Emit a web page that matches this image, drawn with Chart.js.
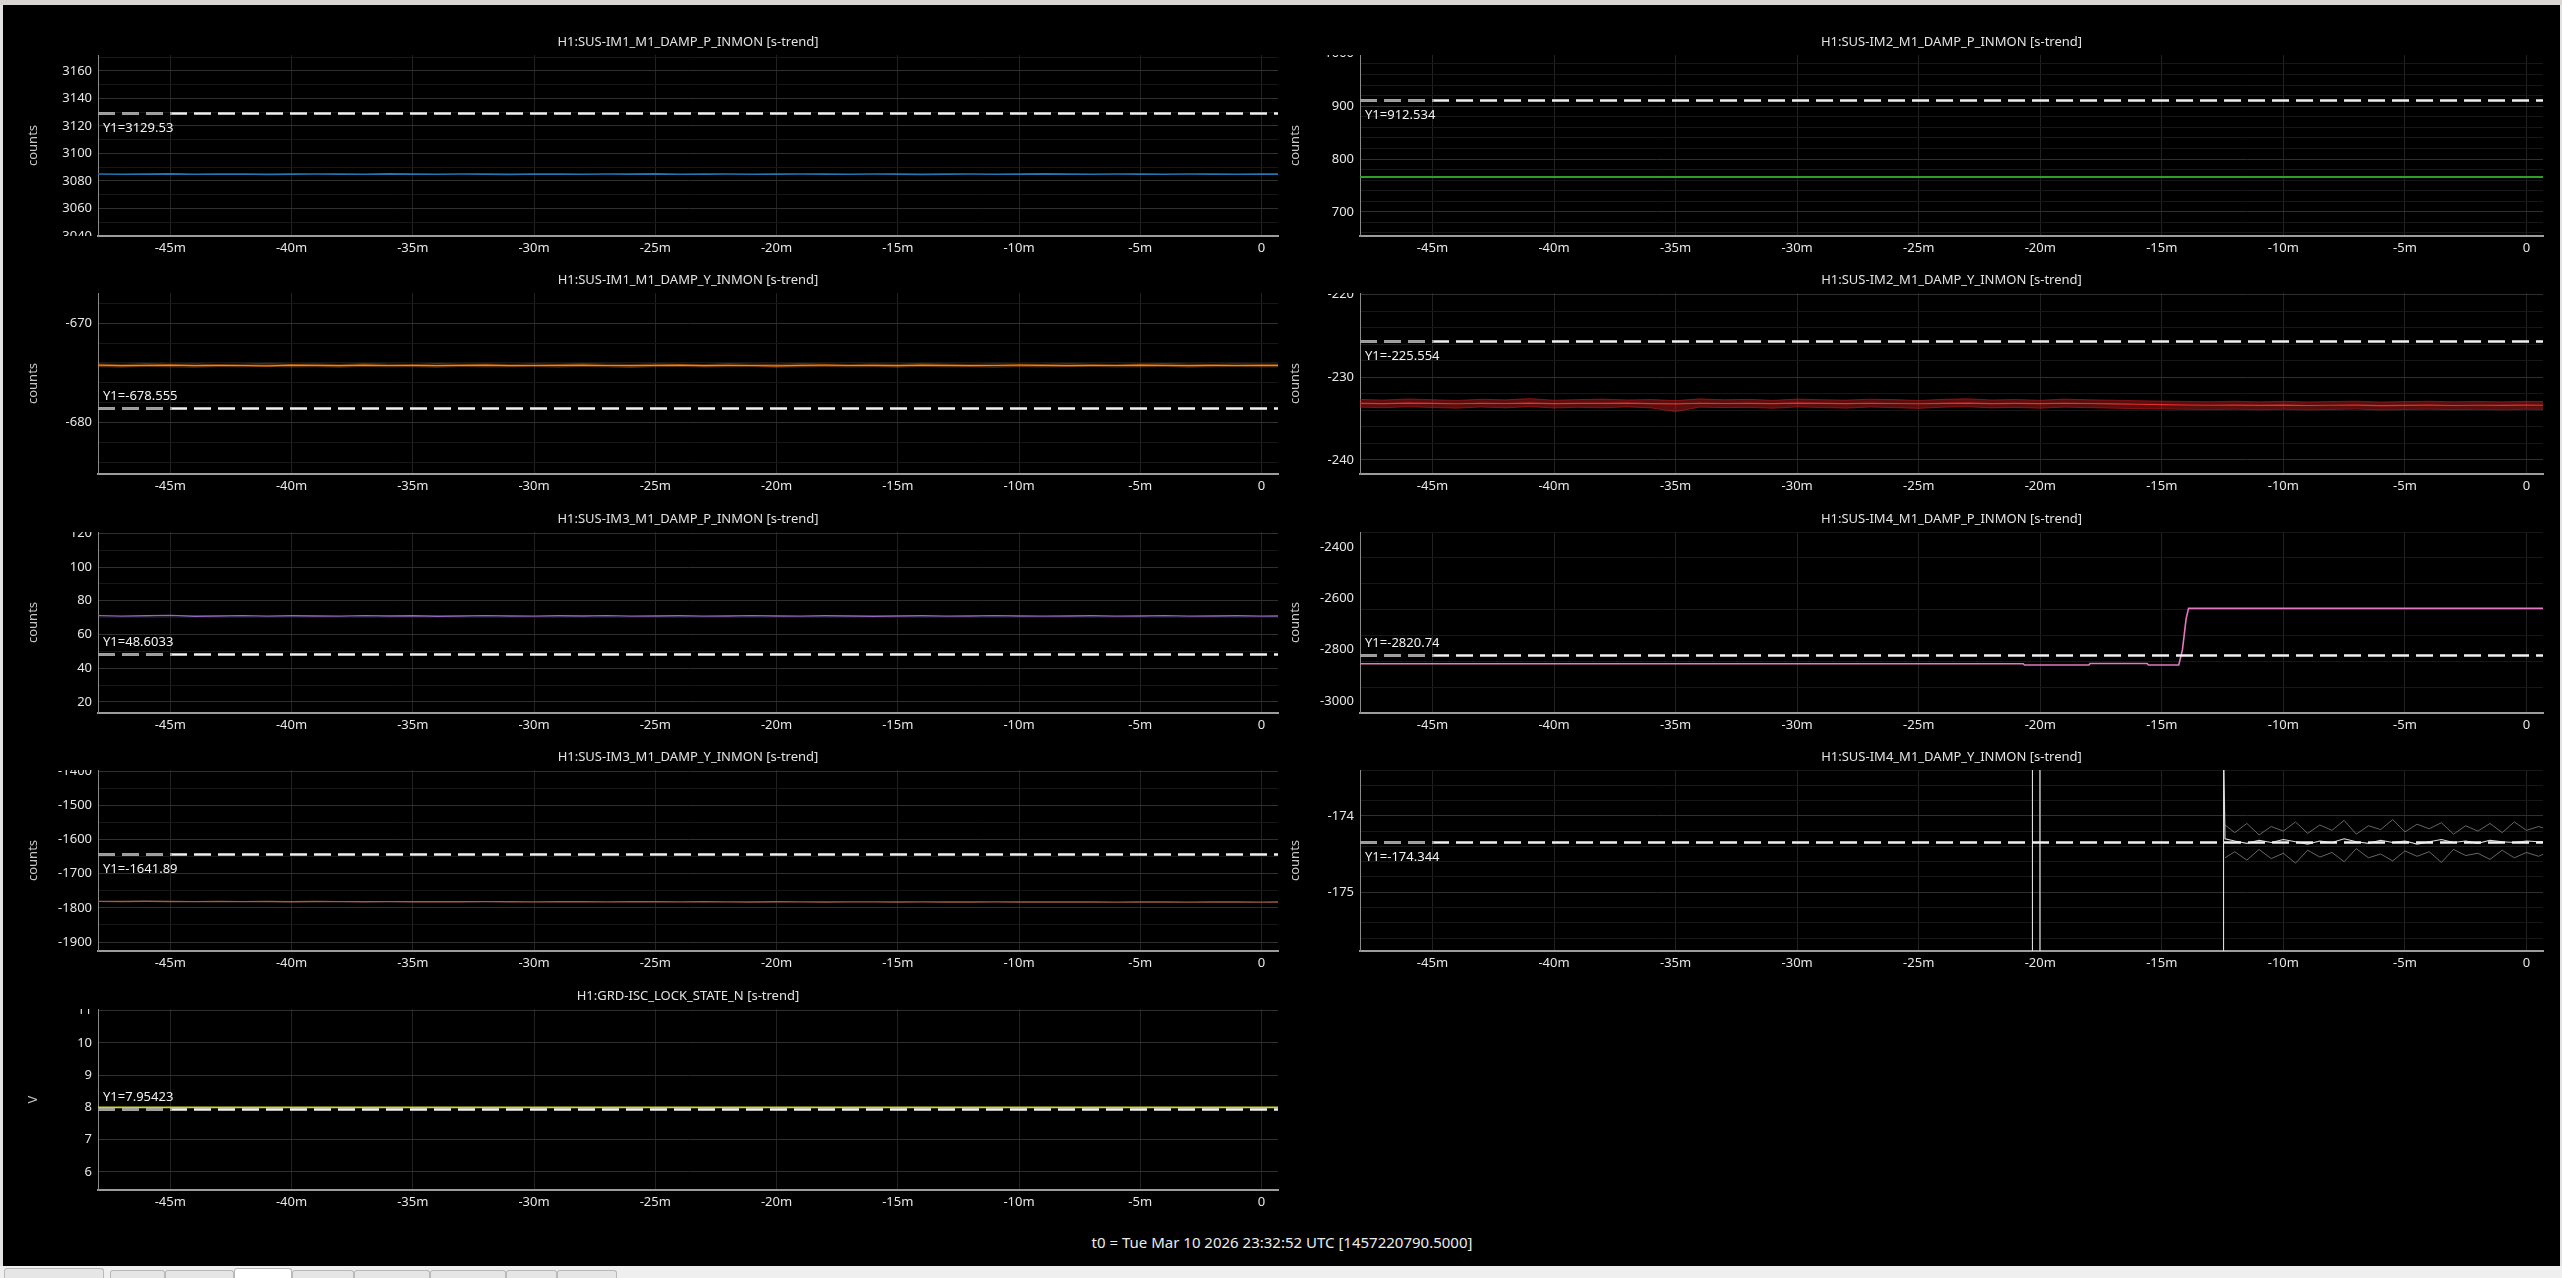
<!DOCTYPE html>
<html>
<head>
<meta charset="utf-8">
<title>ndscope trends</title>
<script src="https://cdn.jsdelivr.net/npm/chart.js@4.4.1/dist/chart.umd.min.js"></script>
<style>
  html, body { margin: 0; padding: 0; background: #000; width: 2562px; height: 1278px; overflow: hidden; font-family: "Noto Sans", sans-serif; }
  #topbar { position: absolute; left: 0; top: 0; width: 2562px; height: 5px; background: #d8d5d2; }
  #leftbar { position: absolute; left: 0; top: 5px; width: 3px; height: 1261px; background: #e2e2e2; }
  #rightbar { position: absolute; left: 2560px; top: 5px; width: 2px; height: 1261px; background: #e2e2e2; }
  #tabbar { position: absolute; left: 0; top: 1266px; width: 2562px; height: 12px; background: #efefef; }
  .tab { position: absolute; top: 4px; height: 8px; box-sizing: border-box; border: 1px solid #b9b9b9; border-bottom: none; border-radius: 3px 3px 0 0; background: #e6e6e6; }
  .tab.sel { top: 2px; height: 10px; background: #fff; }
  #t0 { position: absolute; left: 0; top: 1232px; width: 2564px; text-align: center; color: #ececec; font-size: 15px; }
  canvas { position: absolute; }
</style>
</head>
<body>
<div id="topbar"></div>
<div id="leftbar"></div>
<div id="rightbar"></div>
<div id="t0">t0 = Tue Mar 10 2026 23:32:52 UTC [1457220790.5000]</div>
<div id="tabbar">
  <div class="tab" style="left:4px;width:100px;top:2px;height:10px"></div>
  <div class="tab" style="left:110px;width:55px"></div>
  <div class="tab" style="left:165px;width:69px"></div>
  <div class="tab sel" style="left:234px;width:58px"></div>
  <div class="tab" style="left:292px;width:62px"></div>
  <div class="tab" style="left:354px;width:76px"></div>
  <div class="tab" style="left:430px;width:76px"></div>
  <div class="tab" style="left:506px;width:51px"></div>
  <div class="tab" style="left:557px;width:60px"></div>
</div>
<script>
// time axis in minutes relative to t0
const xMin = -47.98, xMax = 0.68

const tMin = [-48,-47,-46,-45,-44,-43,-42,-41,-40,-39,
  -38,-37,-36,-35,-34,-33,-32,-31,-30,-29,
  -28,-27,-26,-25,-24,-23,-22,-21,-20,-19,
  -18,-17,-16,-15,-14,-13,-12,-11,-10,-9,
  -8,-7,-6,-5,-4,-3,-2,-1,0,0.7]

// H1:SUS-IM1_M1_DAMP_P_INMON
const im1pMean = [3085.1,3084.9,3085.0,3085.2,3084.9,3085.0,3085.1,3084.8,3085.0,3085.1,
  3085.0,3084.9,3085.2,3085.0,3084.9,3085.1,3085.0,3084.8,3085.1,3085.0,
  3084.9,3085.1,3085.0,3085.2,3084.9,3085.0,3085.1,3084.9,3085.0,3085.1,
  3085.0,3084.9,3085.1,3085.0,3084.8,3085.0,3085.1,3084.9,3085.0,3085.2,
  3085.0,3084.9,3085.1,3085.0,3084.9,3085.1,3085.0,3084.9,3085.0,3085.0]

// H1:SUS-IM2_M1_DAMP_P_INMON
const im2pT = [-48, -24, 0.7]
const im2pMean = [766.0, 766.0, 766.0]

// H1:SUS-IM1_M1_DAMP_Y_INMON
const im1yMean = [-674.22,-674.27,-674.24,-674.21,-674.26,-674.23,-674.25,-674.28,-674.22,-674.24,
  -674.26,-674.21,-674.25,-674.23,-674.27,-674.24,-674.22,-674.26,-674.25,-674.23,
  -674.21,-674.25,-674.27,-674.24,-674.22,-674.26,-674.23,-674.25,-674.28,-674.24,
  -674.22,-674.25,-674.23,-674.26,-674.21,-674.24,-674.27,-674.25,-674.22,-674.24,
  -674.26,-674.23,-674.25,-674.21,-674.24,-674.27,-674.23,-674.25,-674.24,-674.24]
const im1yMax = [-674.08,-674.12,-674.05,-674.10,-674.07,-674.13,-674.09,-674.04,-674.11,-674.08,
  -674.12,-674.06,-674.09,-674.13,-674.05,-674.10,-674.08,-674.12,-674.07,-674.11,
  -674.05,-674.09,-674.12,-674.07,-674.10,-674.13,-674.06,-674.09,-674.11,-674.05,
  -674.09,-674.12,-674.08,-674.10,-674.04,-674.09,-674.12,-674.07,-674.09,-674.11,
  -674.06,-674.10,-674.12,-674.08,-674.05,-674.09,-674.11,-674.07,-674.09,-674.09]
const im1yMin = [-674.38,-674.42,-674.36,-674.40,-674.44,-674.37,-674.40,-674.35,-674.41,-674.39,
  -674.43,-674.36,-674.40,-674.38,-674.44,-674.36,-674.41,-674.39,-674.37,-674.42,
  -674.36,-674.40,-674.45,-674.38,-674.35,-674.41,-674.39,-674.37,-674.43,-674.40,
  -674.36,-674.41,-674.38,-674.42,-674.36,-674.40,-674.39,-674.44,-674.37,-674.41,
  -674.38,-674.35,-674.41,-674.40,-674.36,-674.42,-674.39,-674.37,-674.40,-674.40]

// H1:SUS-IM2_M1_DAMP_Y_INMON
const im2yMean = [-233.15,-233.18,-233.12,-233.16,-233.20,-233.14,-233.17,-233.13,-233.19,-233.15,
  -233.16,-233.12,-233.18,-233.21,-233.14,-233.17,-233.15,-233.19,-233.13,-233.16,
  -233.18,-233.14,-233.17,-233.20,-233.15,-233.13,-233.18,-233.16,-233.19,-233.14,
  -233.17,-233.22,-233.26,-233.31,-233.35,-233.38,-233.36,-233.40,-233.37,-233.41,
  -233.38,-233.36,-233.42,-233.39,-233.37,-233.41,-233.38,-233.40,-233.36,-233.38]
const im2yMax = [-232.68,-232.75,-232.62,-232.71,-232.80,-232.66,-232.73,-232.58,-232.77,-232.70,
  -232.64,-232.74,-232.69,-232.82,-232.61,-232.72,-232.67,-232.79,-232.63,-232.71,
  -232.76,-232.65,-232.70,-232.81,-232.66,-232.60,-232.74,-232.69,-232.78,-232.64,
  -232.72,-232.77,-232.83,-232.88,-232.92,-232.95,-232.90,-232.97,-232.91,-232.98,
  -232.93,-232.89,-232.99,-232.94,-232.90,-232.96,-232.92,-232.97,-232.91,-232.93]
const im2yMin = [-233.62,-233.68,-233.57,-233.66,-233.74,-233.60,-233.70,-233.55,-233.72,-233.63,
  -233.69,-233.58,-233.71,-234.15,-233.61,-233.67,-233.64,-233.75,-233.59,-233.66,
  -233.73,-233.60,-233.68,-233.76,-233.62,-233.57,-233.70,-233.65,-233.74,-233.61,
  -233.68,-233.74,-233.79,-233.84,-233.88,-233.91,-233.86,-233.93,-233.87,-233.94,
  -233.89,-233.85,-233.95,-233.90,-233.86,-233.92,-233.88,-233.93,-233.87,-233.89]

// H1:SUS-IM3_M1_DAMP_P_INMON
const im3pMean = [71.2,70.9,71.1,71.3,70.8,71.0,71.2,70.9,71.1,71.0,
  70.9,71.2,71.0,71.1,70.8,71.0,71.2,71.0,70.9,71.1,
  71.0,71.2,70.9,71.0,71.1,70.9,71.0,71.2,71.0,70.9,
  71.1,71.0,70.8,71.0,71.1,70.9,71.0,71.2,71.0,70.9,
  71.0,71.1,70.9,71.0,71.2,70.9,71.0,71.1,70.9,71.0]

// H1:SUS-IM4_M1_DAMP_P_INMON
const im4pT = [-48,-20.7,-20.65,-18.0,-17.95,-15.6,-15.55,-14.3,-14.15,-14.0,-13.9,0.7]
const im4pMean = [-2855,-2855,-2860,-2860,-2854,-2854,-2860,-2860,-2800,-2680,-2639,-2639]

// H1:SUS-IM3_M1_DAMP_Y_INMON
const im3yMean = [-1781.0,-1781.5,-1780.8,-1781.3,-1781.6,-1781.2,-1781.7,-1781.4,-1781.9,-1781.5,
  -1781.8,-1782.0,-1781.6,-1782.1,-1781.9,-1782.2,-1781.8,-1782.0,-1782.3,-1781.9,
  -1782.1,-1782.4,-1782.0,-1782.2,-1782.5,-1782.1,-1782.3,-1782.6,-1782.2,-1782.4,
  -1782.7,-1782.3,-1782.5,-1782.8,-1782.4,-1782.6,-1782.9,-1782.5,-1782.7,-1783.0,
  -1782.6,-1782.8,-1783.1,-1782.7,-1782.9,-1783.2,-1782.8,-1783.0,-1783.1,-1783.0]

// H1:SUS-IM4_M1_DAMP_Y_INMON (off-scale before the glitch at -12.5m)
const im4yT = [-48,-20.33,-20.32,-20.02,-20.01,-12.47,-12.46,-12.4,
  -12.0,-11.5,-11.0,-10.5,-10.0,-9.5,-9.0,-8.5,-8.0,-7.5,-7.0,-6.5,-6.0,-5.5,
  -5.0,-4.5,-4.0,-3.5,-3.0,-2.5,-2.0,-1.5,-1.0,-0.5,0,0.5,0.7]
const im4yMean = [-180,-180,-168,-168,-180,-180,-173.0,-174.30,
  -174.33,-174.36,-174.32,-174.35,-174.31,-174.34,-174.37,-174.33,-174.35,-174.30,
  -174.34,-174.36,-174.32,-174.35,-174.33,-174.37,-174.34,-174.31,-174.35,-174.33,
  -174.36,-174.32,-174.34,-174.35,-174.33,-174.34,-174.34]
const im4yMax = [null,null,null,null,null,null,null,-174.12,
  -174.22,-174.10,-174.25,-174.14,-174.20,-174.08,-174.23,-174.12,-174.19,-174.06,
  -174.24,-174.13,-174.18,-174.05,-174.21,-174.11,-174.17,-174.09,-174.24,-174.13,
  -174.20,-174.10,-174.22,-174.08,-174.19,-174.14,-174.16]
const im4yMin = [null,null,null,null,null,null,null,-174.55,
  -174.47,-174.58,-174.44,-174.56,-174.49,-174.62,-174.45,-174.54,-174.48,-174.60,
  -174.43,-174.55,-174.50,-174.59,-174.46,-174.53,-174.47,-174.61,-174.44,-174.52,
  -174.49,-174.57,-174.45,-174.55,-174.48,-174.53,-174.50]

// H1:GRD-ISC_LOCK_STATE_N
const grdT = [-48, 0.7]
const grdMean = [8, 8]

// y tick labels per panel
const ticksIM1P = [3040, 3060, 3080, 3100, 3120, 3140, 3160]
const ticksIM2P = [700, 800, 900, 1000]
const ticksIM1Y = [-680, -670]
const ticksIM2Y = [-240, -230, -220]
const ticksIM3P = [20, 40, 60, 80, 100, 120]
const ticksIM4P = [-3000, -2800, -2600, -2400]
const ticksIM3Y = [-1900, -1800, -1700, -1600, -1500, -1400]
const ticksIM4Y = [-175, -174]
const ticksGRD = [6, 7, 8, 9, 10, 11]

// Y1 cursor values
const cursorY = [3129.53, 912.534, -678.555, -225.554, 48.6033, -2820.74, -1641.89, -174.344, 7.95423]

const rowTops = [55, 293, 532, 770, 1009]
const plotH = 181

function isMajor(v, step) {
  return Math.abs(v / step - Math.round(v / step)) < 1e-6
}

const panelDecor = {
  id: 'panelDecor',
  afterDatasetsDraw(chart, args, o) {
    const { ctx, chartArea: a, scales: { y } } = chart
    const py = Math.round(y.getPixelForValue(o.cursor)) + 0.5
    ctx.save()
    ctx.beginPath()
    ctx.rect(a.left, a.top, a.right - a.left, a.bottom - a.top)
    ctx.clip()
    ctx.lineWidth = 2.5
    ctx.setLineDash([17, 7])
    ctx.strokeStyle = '#f0f0f0'
    ctx.beginPath(); ctx.moveTo(a.left, py); ctx.lineTo(a.right, py); ctx.stroke()
    ctx.beginPath()
    ctx.rect(a.left, 0, 74, chart.height)
    ctx.clip()
    ctx.strokeStyle = '#9a9a9a'
    ctx.beginPath(); ctx.moveTo(a.left, py); ctx.lineTo(a.right, py); ctx.stroke()
    ctx.restore()

    ctx.save()
    ctx.font = '13px "Noto Sans"'
    ctx.fillStyle = '#f2f2f2'
    ctx.textBaseline = 'middle'
    ctx.fillText('Y1=' + String(o.cursor), a.left + 5, o.below ? py + 15 : py - 12)
    ctx.restore()
  },
  afterDraw(chart, args, o) {
    const { ctx, chartArea: a, scales: { y } } = chart
    ctx.save()
    ctx.font = '13px "Noto Sans"'
    ctx.textBaseline = 'middle'
    ctx.textAlign = 'center'
    ctx.fillStyle = '#e2e2e2'
    ctx.fillText(o.title, (a.left + a.right) / 2, a.top - 13)

    ctx.save()
    ctx.translate(a.left - 65, (a.top + a.bottom) / 2)
    ctx.rotate(-Math.PI / 2)
    ctx.fillStyle = '#c6c6c6'
    ctx.fillText(o.ylabel, 0, 0)
    ctx.restore()

    // tick labels, clipped to the plot height like the original
    ctx.beginPath()
    ctx.rect(0, a.top, a.left, a.bottom - a.top)
    ctx.clip()
    ctx.textAlign = 'right'
    ctx.fillStyle = '#e6e6e6'
    o.ticks.forEach(v => ctx.fillText(String(v), a.left - 6, y.getPixelForValue(v)))
    ctx.restore()
  }
}

const C = {
  blue: '#1f77b4', orange: '#ff7f0e', orangeBand: 'rgba(255,127,14,0.45)',
  green: '#2ca02c', red: '#e0302f', redDim: 'rgba(190,30,30,0.8)', redBand: 'rgba(200,30,30,0.45)',
  purple: '#9467bd', brown: '#a35a48', pink: '#e377c2',
  gray: 'rgba(150,150,150,0.85)', white: '#dcdcdc', olive: '#d2d228'
}

const panels = [
  { col: 0, row: 0, title: 'H1:SUS-IM1_M1_DAMP_P_INMON [s-trend]', ylabel: 'counts', yMin: 3040, yMax: 3171.6, major: 20, minor: 10, ticks: ticksIM1P, cursor: cursorY[0], below: true,
    series: [{ t: tMin, v: im1pMean, color: C.blue, w: 1.6 }] },
  { col: 1, row: 0, title: 'H1:SUS-IM2_M1_DAMP_P_INMON [s-trend]', ylabel: 'counts', yMin: 654.3, yMax: 997, major: 100, minor: 20, ticks: ticksIM2P, cursor: cursorY[1], below: true,
    series: [{ t: im2pT, v: im2pMean, color: C.green, w: 1.8 }] },
  { col: 0, row: 1, title: 'H1:SUS-IM1_M1_DAMP_Y_INMON [s-trend]', ylabel: 'counts', yMin: -685.15, yMax: -666.97, major: 10, minor: 2, ticks: ticksIM1Y, cursor: cursorY[2], below: false,
    series: [{ t: tMin, v: im1yMean, color: C.orange, w: 1.2 },
             { t: tMin, v: im1yMax, color: C.orangeBand, w: 0.6, fill: '+1', bg: 'rgba(255,127,14,0.25)' },
             { t: tMin, v: im1yMin, color: C.orangeBand, w: 0.6 }] },
  { col: 1, row: 1, title: 'H1:SUS-IM2_M1_DAMP_Y_INMON [s-trend]', ylabel: 'counts', yMin: -241.7, yMax: -219.8, major: 10, minor: 2, ticks: ticksIM2Y, cursor: cursorY[3], below: true,
    series: [{ t: tMin, v: im2yMean, color: C.red, w: 1.2 },
             { t: tMin, v: im2yMax, color: C.redDim, w: 0.7, fill: '+1', bg: C.redBand },
             { t: tMin, v: im2yMin, color: C.redDim, w: 0.7 }] },
  { col: 0, row: 2, title: 'H1:SUS-IM3_M1_DAMP_P_INMON [s-trend]', ylabel: 'counts', yMin: 13.4, yMax: 120.8, major: 20, minor: 10, ticks: ticksIM3P, cursor: cursorY[4], below: false,
    series: [{ t: tMin, v: im3pMean, color: C.purple, w: 1.4 }] },
  { col: 1, row: 2, title: 'H1:SUS-IM4_M1_DAMP_P_INMON [s-trend]', ylabel: 'counts', yMin: -3047, yMax: -2341, major: 200, minor: 100, ticks: ticksIM4P, cursor: cursorY[5], below: false,
    series: [{ t: im4pT, v: im4pMean, color: C.pink, w: 1.6 }] },
  { col: 0, row: 3, title: 'H1:SUS-IM3_M1_DAMP_Y_INMON [s-trend]', ylabel: 'counts', yMin: -1926, yMax: -1397, major: 100, minor: 50, ticks: ticksIM3Y, cursor: cursorY[6], below: true,
    series: [{ t: tMin, v: im3yMean, color: C.brown, w: 1.4 }] },
  { col: 1, row: 3, title: 'H1:SUS-IM4_M1_DAMP_Y_INMON [s-trend]', ylabel: 'counts', yMin: -175.77, yMax: -173.4, major: 1, minor: 0.2, ticks: ticksIM4Y, cursor: cursorY[7], below: true,
    series: [{ t: im4yT, v: im4yMean, color: C.white, w: 1.1 },
             { t: im4yT, v: im4yMax, color: C.gray, w: 0.8 },
             { t: im4yT, v: im4yMin, color: C.gray, w: 0.8 }] },
  { col: 0, row: 4, title: 'H1:GRD-ISC_LOCK_STATE_N [s-trend]', ylabel: 'V', yMin: 5.44, yMax: 11.05, major: 1, minor: 1, ticks: ticksGRD, cursor: cursorY[8], below: false,
    series: [{ t: grdT, v: grdMean, color: C.olive, w: 1.6 }] }
]

function makePanel(p) {
  const left = p.col ? 1282 : 4
  const width = p.col ? 1278 : 1276
  const axisW = p.col ? 78 : 94
  const padRight = p.col ? 17 : 2
  const cv = document.createElement('canvas')
  cv.width = width
  cv.height = 30 + plotH + 28
  cv.style.left = left + 'px'
  cv.style.top = (rowTops[p.row] - 30) + 'px'
  document.body.appendChild(cv)

  return new Chart(cv, {
    type: 'line',
    plugins: [panelDecor],
    data: {
      datasets: p.series.map(s => ({
        data: s.t.map((x, i) => ({ x: x, y: s.v[i] })),
        borderColor: s.color,
        borderWidth: s.w,
        backgroundColor: s.bg || 'transparent',
        fill: s.fill || false,
        pointRadius: 0,
        tension: 0,
        spanGaps: false
      }))
    },
    options: {
      responsive: false,
      animation: false,
      devicePixelRatio: 1,
      events: [],
      layout: { padding: { top: 30, right: padRight, left: 0, bottom: 0 } },
      plugins: {
        legend: { display: false },
        tooltip: { enabled: false },
        panelDecor: { title: p.title, ylabel: p.ylabel, ticks: p.ticks, cursor: p.cursor, below: p.below }
      },
      scales: {
        x: {
          type: 'linear',
          min: xMin,
          max: xMax,
          afterFit: s => { s.height = 28 },
          border: { display: true, color: '#9c9c9c', width: 2 },
          grid: { color: '#222222', drawTicks: false },
          ticks: {
            stepSize: 5,
            includeBounds: false,
            autoSkip: false,
            maxRotation: 0,
            padding: 4,
            color: '#e6e6e6',
            font: { family: 'Noto Sans', size: 13 },
            callback: v => v === 0 ? '0' : v + 'm'
          }
        },
        y: {
          type: 'linear',
          min: p.yMin,
          max: p.yMax,
          afterFit: s => { s.width = axisW },
          border: { display: true, color: '#8a8a8a', width: 1 },
          grid: {
            drawTicks: false,
            color: ctx => isMajor(ctx.tick.value, p.major) ? '#303030' : '#171717'
          },
          ticks: { display: false, stepSize: p.minor, includeBounds: false }
        }
      }
    }
  })
}

panels.forEach(makePanel)
</script>
</body>
</html>
